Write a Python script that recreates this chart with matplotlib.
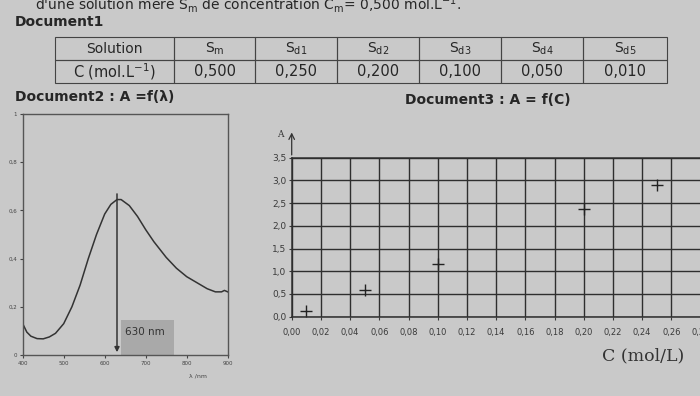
import matplotlib
matplotlib.use("Agg")
import matplotlib.pyplot as plt

# ---- data ----
solutions = ["Solution", r"S$_{\mathrm{m}}$", r"S$_{\mathrm{d1}}$", r"S$_{\mathrm{d2}}$",
             r"S$_{\mathrm{d3}}$", r"S$_{\mathrm{d4}}$", r"S$_{\mathrm{d5}}$"]
conc_row = [r"C (mol.L$^{-1}$)", "0,500", "0,250", "0,200", "0,100", "0,050", "0,010"]

wavelength = [400, 410, 420, 435, 450, 465, 480, 500, 520, 540, 560, 580, 600, 615,
              630, 640, 660, 680, 700, 720, 750, 775, 800, 825, 850, 870, 885, 892, 900]
absorb = [0.13, 0.095, 0.078, 0.068, 0.067, 0.075, 0.09, 0.13, 0.20, 0.29, 0.40, 0.50,
          0.585, 0.625, 0.645, 0.645, 0.62, 0.575, 0.52, 0.47, 0.405, 0.36, 0.325,
          0.30, 0.275, 0.262, 0.262, 0.268, 0.262]
lam_max = 630

c_pts = [0.01, 0.05, 0.10, 0.20, 0.25]
a_pts = [0.12, 0.58, 1.16, 2.36, 2.89]

bg = '#c9c9c9'
ink = '#262626'

fig = plt.figure(figsize=(7.0, 3.96), dpi=100, facecolor=bg)

##! header texts
fig.text(35/700, 1-4/396, r"d'une solution mère S$_{\mathrm{m}}$ de concentration C$_{\mathrm{m}}$= 0,500 mol.L$^{-1}$.",
         fontsize=10, color=ink, va='center', ha='left')
fig.text(15/700, 1-22/396, "Document1", fontsize=10, color=ink, va='center', fontweight='bold')
fig.text(15/700, 1-97/396, "Document2 : A =f(λ)", fontsize=10, color=ink, va='center', fontweight='bold')
fig.text(405/700, 1-100/396, "Document3 : A = f(C)", fontsize=10, color=ink, va='center', fontweight='bold')

##! table (Document1)
axt = fig.add_axes([54.5/700, 1-83/396, (667-54.5)/700, (83-37)/396])
axt.axis('off')
widths = [119.5, 81.5, 82, 82, 81.5, 82, 84]
tot = sum(widths)
tb = axt.table(cellText=[solutions, conc_row], cellLoc='center', bbox=[0, 0, 1, 1],
               colWidths=[w/tot for w in widths])
tb.auto_set_font_size(False)
for (r, c), cell in tb.get_celld().items():
    cell.set_facecolor('none')
    cell.set_edgecolor('#444444')
    cell.set_linewidth(0.8)
    cell.get_text().set_color(ink)
    cell.get_text().set_fontsize(10.5 if r == 1 else 10)

##! Document2 : spectrum
ax1 = fig.add_axes([22.7/700, 1-355/396, (227.7-22.7)/700, (355-114)/396])
ax1.set_facecolor('none')
ax1.plot(wavelength, absorb, color='#333333', lw=1.1)
ax1.annotate('', xy=(lam_max, 0), xytext=(lam_max, 0.68),
             arrowprops=dict(arrowstyle='-|>', color='#333333', lw=1.1, mutation_scale=7))
ax1.add_patch(plt.Rectangle((640, 0), 130, 0.145, facecolor='#a9a9a9', edgecolor='none'))
ax1.text(650, 0.095, "630 nm", fontsize=7.5, color='#333333', va='center')
ax1.set_xlim(400, 900)
ax1.set_ylim(0, 1)
ax1.set_xticks([400, 500, 600, 700, 800, 900])
ax1.set_xticklabels(['400', '500', '600', '700', '800', '900'])
ax1.set_yticks([0, 0.2, 0.4, 0.6, 0.8, 1])
ax1.set_yticklabels(['0', '0,2', '0,4', '0,6', '0,8', '1'])
ax1.tick_params(labelsize=4, colors='#444444', length=2, pad=2)
for s in ax1.spines.values():
    s.set_color('#555555')
    s.set_linewidth(1.0)
fig.text(198/700, 1-376/396, "λ /nm", fontsize=4.5, color='#444444', ha='center', va='center')

##! Document3 : A = f(C)
ax2 = fig.add_axes([291.7/700, 1-316.7/396, (700.5-291.7)/700, (316.7-157.7)/396])
ax2.set_facecolor('none')
ax2.set_xlim(0, 0.28)
ax2.set_ylim(0, 3.5)
xt = [i*0.02 for i in range(15)]
yt = [i*0.5 for i in range(8)]
ax2.set_xticks(xt)
ax2.set_xticklabels([("%.2f" % v).replace('.', ',') for v in xt])
ax2.set_yticks(yt)
ax2.set_yticklabels([("%.1f" % v).replace('.', ',') for v in yt])
ax2.grid(True, color='#2e2e2e', lw=1.0)
ax2.tick_params(labelsize=6.5, colors='#3a3a3a', length=2, pad=2)
ax2.tick_params(axis='x', labelsize=6, pad=6)
for s in ax2.spines.values():
    s.set_color('#2e2e2e')
    s.set_linewidth(1.1)
ax2.spines['right'].set_visible(False)
ax2.plot(c_pts, a_pts, '+', color='#222222', ms=8, mew=1.0)
ax2.set_xlabel("C (mol/L)", family='DejaVu Serif', fontsize=12.5, color='#333333')
ax2.xaxis.set_label_coords((643-291.7)/(700.5-291.7), -(347-316.7)/(316.7-157.7))
ax2.annotate('', xy=(0, 3.5 + 28/22.7*0.5), xytext=(0, 3.5),
             arrowprops=dict(arrowstyle='->', color='#333333', lw=0.9), annotation_clip=False)
fig.text(280/700, 1-135/396, "A", family='DejaVu Serif', fontsize=6.5, color='#333333',
         ha='center', va='center')

plt.savefig('out.png', dpi=100, facecolor=bg)
